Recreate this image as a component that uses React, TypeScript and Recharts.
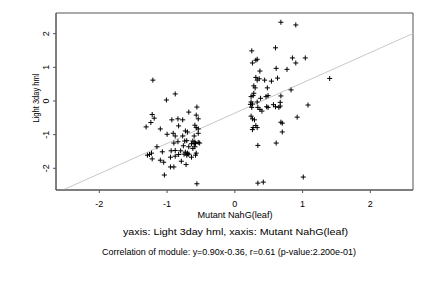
import { ScatterChart, Scatter, XAxis, YAxis, ReferenceLine, ReferenceArea } from 'recharts';

// axis ranges and ticks
const X_DOMAIN: [number, number] = [-2.64, 2.63];
const Y_DOMAIN: [number, number] = [-2.645, 2.615];
const TICKS = [-2, -1, 0, 1, 2];

// fitted line from the caption: y = 0.90x - 0.36
const SLOPE = 0.9;
const INTERCEPT = -0.36;

// left cluster
const lowX = [
  -1.21, -0.88, -1.01, -0.56, -0.68, -1.22, -1.19, -0.57, -0.54, -0.93, -0.84, -0.77, -1.24, -1.31, -0.83, -1.1,
  -0.59, -0.57, -0.54, -0.73, -0.7, -1.0, -0.91, -0.88, -0.77, -0.6, -0.54, -0.74, -0.71, -0.9, -0.84, -0.62,
  -0.59, -0.58, -0.54, -0.52, -0.64, -0.6, -1.15, -0.76, -0.68, -0.62, -0.59, -0.88, -0.8, -0.73, -0.7, -0.68,
  -1.07, -0.94, -1.26, -1.29, -1.23, -0.83, -0.75, -0.71, -0.7, -0.58, -0.57, -0.64, -1.22, -0.95, -0.88, -0.79,
  -1.1, -1.05, -0.95, -0.9, -0.72, -1.04, -0.56,
];
const lowY = [
  0.62, 0.21, 0.03, -0.18, -0.33, -0.4, -0.51, -0.42, -0.53, -0.56, -0.53, -0.56, -0.64, -0.77, -0.74, -0.83,
  -0.72, -0.79, -0.83, -0.89, -0.92, -0.99, -0.96, -1.04, -1.04, -1.04, -0.96, -1.19, -1.18, -1.25, -1.21, -1.19,
  -1.22, -1.26, -1.23, -1.25, -1.27, -1.27, -1.36, -1.33, -1.36, -1.41, -1.36, -1.47, -1.48, -1.52, -1.55, -1.58,
  -1.51, -1.48, -1.59, -1.61, -1.55, -1.59, -1.58, -1.61, -1.57, -1.61, -1.55, -1.67, -1.72, -1.67, -1.64, -1.79,
  -1.76, -1.82, -1.96, -1.96, -1.89, -2.2, -2.46,
];

// right cluster
const highX = [
  0.68, 0.9, 0.25, 0.6, 0.26, 0.31, 0.33, 0.85, 1.04, 0.9, 0.37, 0.61, 0.77, 0.63, 0.31, 0.33,
  0.36, 0.44, 0.54, 1.4, 0.28, 0.3, 0.48, 0.83, 0.28, 0.27, 0.24, 0.38, 0.46, 0.49, 0.68, 0.24,
  0.23, 0.26, 0.33, 0.67, 0.67, 0.65, 0.57, 0.6, 0.47, 0.49, 0.25, 0.34, 0.37, 0.4, 1.08, 0.24,
  0.26, 0.29, 0.92, 0.68, 0.7, 0.31, 0.33, 0.27, 0.26, 0.7, 0.34, 0.61, 0.34, 0.42, 1.01,
];
const highY = [
  2.34, 2.26, 1.49, 1.58, 1.13, 1.21, 1.24, 1.28, 1.28, 1.13, 0.89, 0.97, 0.94, 0.68, 0.7, 0.62,
  0.66, 0.62, 0.59, 0.67, 0.45, 0.39, 0.39, 0.33, 0.23, 0.16, 0.13, 0.08, 0.13, 0.16, 0.15, -0.03,
  -0.1, -0.09, -0.03, -0.04, -0.15, -0.19, -0.11, -0.17, -0.17, -0.19, -0.19, -0.19, -0.25, -0.3, -0.12, -0.45,
  -0.53, -0.56, -0.48, -0.63, -0.66, -0.73, -0.79, -0.79, -0.85, -0.92, -1.32, -1.25, -2.44, -2.41, -2.26,
];

const points = [...lowX.map((x, i) => ({ x, y: lowY[i] })), ...highX.map((x, i) => ({ x, y: highY[i] }))];

const FONT = '"Liberation Sans", Arial, sans-serif';

const Plus = (props: any) => {
  const { cx, cy } = props;
  return <path d={`M${cx - 2.5},${cy}h5M${cx},${cy - 2.5}v5`} stroke="#000" strokeWidth={1} fill="none" />;
};

const YTick = (props: any) => {
  const { x, y, payload } = props;
  return (
    <text x={x} y={y} transform={`rotate(-90, ${x}, ${y})`} textAnchor="middle" fontSize={9} fontFamily={FONT} fill="#000">
      {payload.value}
    </text>
  );
};

export default function App() {
  const line = [
    { x: X_DOMAIN[0], y: SLOPE * X_DOMAIN[0] + INTERCEPT },
    { x: X_DOMAIN[1], y: SLOPE * X_DOMAIN[1] + INTERCEPT },
  ];
  return (
    <div style={{ position: 'absolute', left: 0, top: 0, width: 432, height: 288, background: '#fff' }}>
      <ScatterChart width={432} height={288} margin={{ top: 13, right: 19, bottom: 78, left: 0 }}>
        <XAxis
          type="number"
          dataKey="x"
          domain={X_DOMAIN}
          ticks={TICKS}
          allowDataOverflow
          height={20}
          tickSize={3}
          tickMargin={8}
          stroke="#555"
          tick={{ fontSize: 9, fill: '#000', fontFamily: FONT }}
        />
        <YAxis
          type="number"
          dataKey="y"
          domain={Y_DOMAIN}
          ticks={TICKS}
          allowDataOverflow
          width={56}
          tickSize={3}
          tickMargin={4}
          stroke="#555"
          tick={<YTick />}
        />
        <ReferenceArea x1={X_DOMAIN[0]} x2={X_DOMAIN[1]} y1={Y_DOMAIN[0]} y2={Y_DOMAIN[1]} fill="none" fillOpacity={0} stroke="#555" strokeWidth={1} />
        <ReferenceLine segment={line} stroke="#c8c8c8" strokeWidth={1} ifOverflow="hidden" />
        <Scatter data={points} shape={<Plus />} isAnimationActive={false} />
      </ScatterChart>
      <svg width={432} height={288} style={{ position: 'absolute', left: 0, top: 0, pointerEvents: 'none' }}>
        <g fontFamily={FONT} fontSize={9} fill="#000" textAnchor="middle">
          <text x={36} y={98} dy={3} transform="rotate(-90, 36, 98)" textLength={49} lengthAdjust="spacingAndGlyphs">
            Light 3day hml
          </text>
          <text x={235} y={218} textLength={75} lengthAdjust="spacingAndGlyphs">
            Mutant NahG(leaf)
          </text>
          <text x={235.5} y={234.5} fontSize={8.6} textLength={225} lengthAdjust="spacingAndGlyphs">
            yaxis: Light 3day hml, xaxis: Mutant NahG(leaf)
          </text>
          <text x={229} y={254.5} textLength={254} lengthAdjust="spacingAndGlyphs">
            Correlation of module: y=0.90x-0.36, r=0.61 (p-value:2.200e-01)
          </text>
        </g>
      </svg>
    </div>
  );
}
